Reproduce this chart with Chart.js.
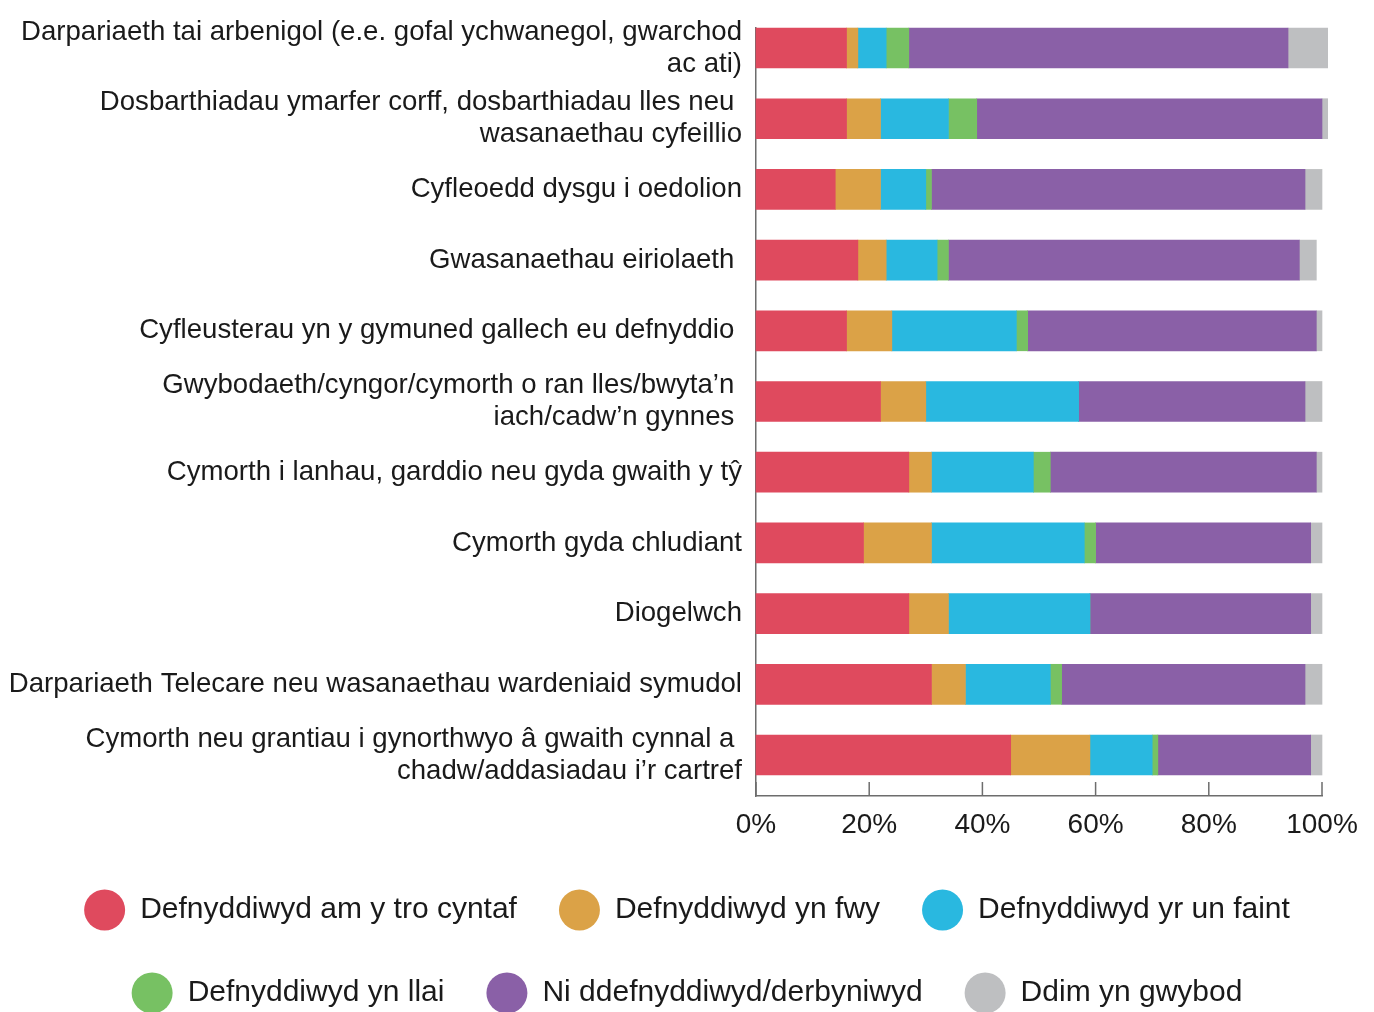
<!DOCTYPE html>
<html>
<head>
<meta charset="utf-8">
<script src="https://cdn.jsdelivr.net/npm/chart.js@4/dist/chart.umd.min.js"></script>
<style>
html,body{margin:0;padding:0;background:#fff;}
canvas{display:block;}
</style>
</head>
<body>
<canvas id="c" width="1374" height="1012"></canvas>
<script>
// ---- data ----
const categories = [
  ["Darpariaeth tai arbenigol (e.e. gofal ychwanegol, gwarchod", "ac ati)"],
  ["Dosbarthiadau ymarfer corff, dosbarthiadau lles neu ", "wasanaethau cyfeillio"],
  "Cyfleoedd dysgu i oedolion",
  "Gwasanaethau eiriolaeth ",
  "Cyfleusterau yn y gymuned gallech eu defnyddio ",
  ["Gwybodaeth/cyngor/cymorth o ran lles/bwyta\u2019n ", "iach/cadw\u2019n gynnes "],
  "Cymorth i lanhau, garddio neu gyda gwaith y t\u0177",
  "Cymorth gyda chludiant",
  "Diogelwch",
  "Darpariaeth Telecare neu wasanaethau wardeniaid symudol",
  ["Cymorth neu grantiau i gynorthwyo \u00e2 gwaith cynnal a ", "chadw/addasiadau i\u2019r cartref"]
];
const seriesNames = [
  "Defnyddiwyd am y tro cyntaf",
  "Defnyddiwyd yn fwy",
  "Defnyddiwyd yr un faint",
  "Defnyddiwyd yn llai",
  "Ni ddefnyddiwyd/derbyniwyd",
  "Ddim yn gwybod"
];
const usedFirstTime = [16, 16, 14, 18, 16, 22, 27, 19, 27, 31, 45];
const usedMore      = [2, 6, 8, 5, 8, 8, 4, 12, 7, 6, 14];
const usedSame      = [5, 12, 8, 9, 22, 27, 18, 27, 25, 15, 11];
const usedLess      = [4, 5, 1, 2, 2, 0, 3, 2, 0, 2, 1];
const notUsed       = [67, 61, 66, 62, 51, 40, 47, 38, 39, 43, 27];
const dontKnow      = [7, 1, 3, 3, 1, 3, 1, 2, 2, 3, 2];
const xTickValues = [0, 20, 40, 60, 80, 100];

// ---- styling ----
const colors = ['#DF4A5E', '#DBA247', '#29B8E0', '#77C163', '#8A60A7', '#BEBFC1'];
const seriesValues = [usedFirstTime, usedMore, usedSame, usedLess, notUsed, dontKnow];
const axisColor = '#6d6d6d';
const textColor = '#1a1a1a';

const datasets = seriesNames.map((name, s) => ({
  label: name,
  data: seriesValues[s].map((v, i) => ({ x: v, y: i })),
  backgroundColor: colors[s],
  borderWidth: 0,
  barThickness: 40,
  clip: false
}));

const innerTicks = {
  id: 'innerTicks',
  afterLayout(chart) {
    // let the long category labels use the full left margin (no clipping)
    chart.scales.y.left = 0;
  },
  afterDraw(chart) {
    const { ctx, chartArea, scales } = chart;
    const x = scales.x;
    ctx.save();
    ctx.strokeStyle = axisColor;
    ctx.lineWidth = 1.5;
    x.ticks.forEach(t => {
      const px = x.getPixelForValue(t.value);
      ctx.beginPath();
      ctx.moveTo(px, chartArea.bottom - 14);
      ctx.lineTo(px, chartArea.bottom);
      ctx.stroke();
    });
    ctx.restore();
  }
};

new Chart(document.getElementById('c'), {
  type: 'bar',
  data: { datasets },
  plugins: [innerTicks],
  options: {
    indexAxis: 'y',
    responsive: false,
    animation: false,
    devicePixelRatio: 1,
    layout: { padding: { left: 20, right: 20, top: 28, bottom: -11.5 } },
    scales: {
      x: {
        type: 'linear',
        stacked: true,
        min: 0,
        max: 100,
        offset: false,
        grid: { display: false, drawTicks: false },
        border: { display: true, color: axisColor, width: 1.5 },
        afterBuildTicks: s => { s.ticks = xTickValues.map(v => ({ value: v })); },
        afterFit: s => { s.height = 51.5; s.paddingRight = 52; },
        ticks: {
          padding: 12.5,
          maxRotation: 0,
          color: textColor,
          font: { family: 'Liberation Sans', size: 28, lineHeight: 1.2 },
          callback: v => v + '%'
        }
      },
      y: {
        type: 'linear',
        reverse: true,
        stacked: true,
        offset: false,
        min: -0.283,
        max: 10.58,
        grid: { display: false, drawTicks: false, offset: false },
        border: { display: true, color: axisColor, width: 1.5 },
        afterBuildTicks: s => { s.ticks = categories.map((c, i) => ({ value: i })); },
        afterFit: s => { s.width = 736; s.paddingTop = 0; s.paddingBottom = 0; },
        ticks: {
          autoSkip: false,
          padding: 14,
          color: textColor,
          font: { family: 'Liberation Sans', size: 27.6, lineHeight: 1.16 },
          callback: v => categories[v]
        }
      }
    },
    plugins: {
      tooltip: { enabled: false },
      legend: {
        position: 'bottom',
        align: 'center',
        labels: {
          boxWidth: 41,
          boxHeight: 41,
          useBorderRadius: true,
          borderRadius: 20.5,
          padding: 42,
          color: textColor,
          font: { family: 'Liberation Sans', size: 30 }
        }
      }
    }
  }
});
</script>
</body>
</html>
